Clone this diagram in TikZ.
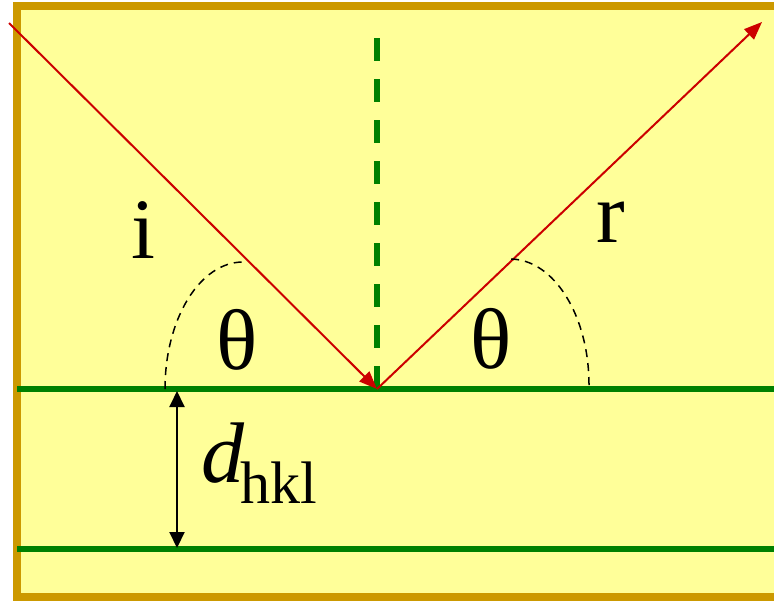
\documentclass[tikz,border=0pt]{standalone}
\usepackage{fontspec}
\setmainfont{Liberation Serif}
\usetikzlibrary{arrows.meta}
\definecolor{FrameGold}{RGB}{204,153,0}
\definecolor{PanelYellow}{RGB}{255,255,153}
\definecolor{PlaneGreen}{RGB}{0,128,0}
\definecolor{RayRed}{RGB}{204,0,0}

\begin{document}
\begin{tikzpicture}[x=0.5pt,y=-0.5pt,
        ray/.style={draw=RayRed,line width=1pt,-{Triangle[length=9pt,width=7pt]}},
        plane/.style={draw=PlaneGreen,line width=2.6pt},
        normal/.style={draw=PlaneGreen,line width=2.6pt,dash pattern=on 11.5pt off 9pt},
        ang/.style={draw=black,line width=0.75pt,dash pattern=on 4pt off 3pt},
        dim/.style={draw=black,line width=1pt,{Triangle[length=8pt,width=7.5pt]}-{Triangle[length=8pt,width=7.5pt]}},
        lbl/.style={inner sep=0pt,font=\fontsize{43}{50}\selectfont}
      ]
        \useasboundingbox (0,0) rectangle (774,600);
        \clip (0,0) rectangle (774,600);
        % frame
        \draw[draw=FrameGold,fill=PanelYellow,line width=4pt] (17,6) rectangle (800,597);
        % lattice planes
        \coordinate (p1l) at (17,389);  \coordinate (p1r) at (780,389);
        \coordinate (p2l) at (17,549);  \coordinate (p2r) at (780,549);
        \draw[plane] (p1l)--(p1r);
        \draw[plane] (p2l)--(p2r);
        % normal and rays
        \coordinate (top) at (377,38);
        \coordinate (o) at (377,389);
        \coordinate (src) at (9,23);
        \coordinate (dst) at (762,22);
        \draw[normal] (top)--(o);
        \draw[ray] (src)--(o);
        \draw[ray] (o)--(dst);
        % angles
        \draw[ang] (165,389) arc[start angle=180,end angle=90,x radius=39pt,y radius=63.5pt];
        \draw[ang] (589,385) arc[start angle=0,end angle=90,x radius=39.5pt,y radius=63pt];
        \node[lbl,anchor=base] (thl) at (237,369) {θ};
        \node[lbl,anchor=base] (thr) at (491,368) {θ};
        \node[lbl,anchor=base] (i) at (143,258) {i};
        \node[lbl,anchor=base] (r) at (611,242) {r};
        % spacing
        \coordinate (da) at (177,391);
        \coordinate (db) at (177,548);
        \draw[dim] (da)--(db);
        \node[lbl,anchor=base west] (d) at (201,482) {\itshape d};
        \node[inner sep=0pt,anchor=base west,font=\fontsize{30}{36}\selectfont] (hkl) at (240,503) {hkl};
      \end{tikzpicture}
\end{document}
